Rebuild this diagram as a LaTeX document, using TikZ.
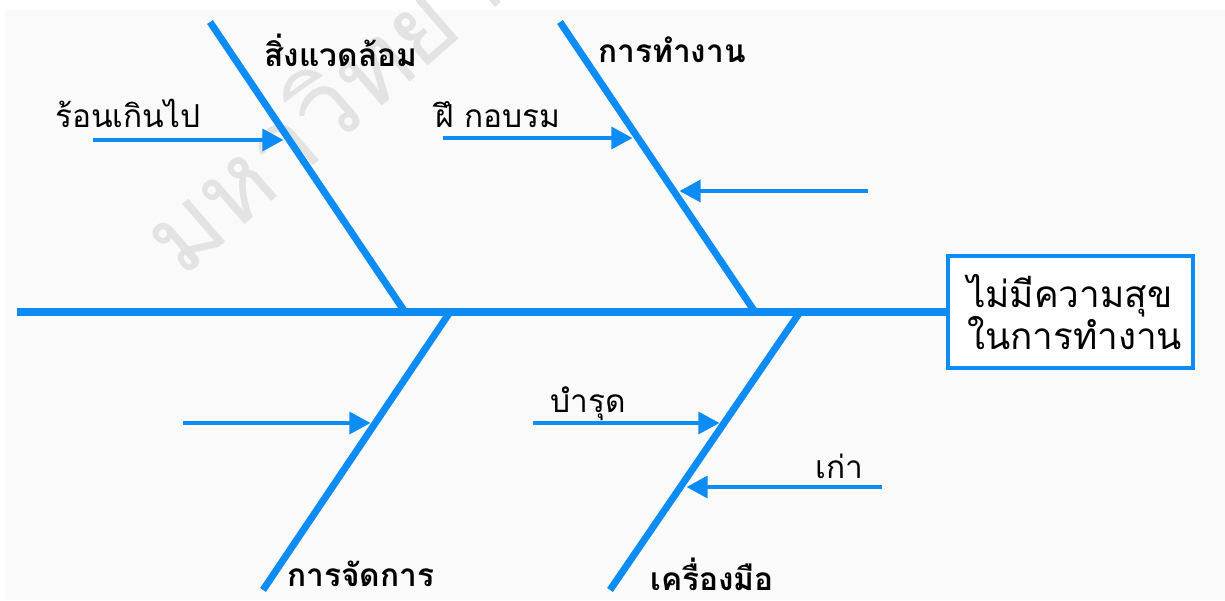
\documentclass[tikz,border=0pt]{standalone}
\usepackage{fontspec}
\newfontfamily\thai[Script=Thai]{Loma}
\usetikzlibrary{arrows.meta}
\definecolor{fishblue}{RGB}{14,140,245}
\definecolor{bgpaper}{RGB}{250,250,250}
\tikzset{
  spine/.style={draw=fishblue, line width=5.1pt},
  bone/.style={draw=fishblue, line width=4pt},
  cause/.style={draw=fishblue, line width=2pt, -{Triangle[length=12pt,width=12.5pt]}, shorten >=2pt},
  lbl/.style={font=\thai\fontsize{18}{22}\selectfont, inner sep=0pt, anchor=base west},
  bonelbl/.style={font=\thai\bfseries\fontsize{18}{21}\selectfont, inner sep=0pt, text=black},
  headbox/.style={draw=fishblue, line width=1.8pt, fill=white, minimum width=4.9cm, minimum height=2.24cm,
    text width=4.14cm, inner xsep=0.38cm, align=left, font=\thai\fontsize{21}{24.4}\selectfont},
  wmark/.style={font=\thai\fontsize{58}{62}\selectfont, text=gray!22, inner sep=0pt, anchor=base west}
}
\begin{document}
\begin{tikzpicture}[x=0.02cm, y=-0.02cm]
\useasboundingbox (0,0) rectangle (1225,600);
\fill[white] (0,0) rectangle (1225,600);
\fill[bgpaper] (5,10) rectangle (1225,600);
\begin{scope}
\clip (0,0) rectangle (1225,600);
\node[wmark, rotate=41] (wm) at (182,280) {มหาวิทยาลัย};
\end{scope}
% head box
\node[headbox] (head) at (1070.5,312) {ไม่มีความสุข\\ในการทำงาน};
% spine
\coordinate (tail) at (17,312);
\draw[spine] (tail) -- (head.west);
% bones
\coordinate (b1t) at (210,22);  \coordinate (b1b) at (405,312);
\coordinate (b2t) at (560,22);  \coordinate (b2b) at (755,312);
\coordinate (b3t) at (450,312); \coordinate (b3b) at (263,590);
\coordinate (b4t) at (800,312); \coordinate (b4b) at (610,590);
\draw[bone] (b1t) -- (b1b);
\draw[bone] (b2t) -- (b2b);
\draw[bone] (b3t) -- (b3b);
\draw[bone] (b4t) -- (b4b);
% bone labels
\node[bonelbl] (l1) at (341,50) {สิ่งแวดล้อม};
\node[bonelbl] (l2) at (672,50) {การทำงาน};
\node[bonelbl] (l3) at (361,574) {การจัดการ};
\node[bonelbl] (l4) at (712,574) {เครื่องมือ};
% cause arrows
\coordinate (a1s) at (93,140);  \coordinate (a1e) at (287,140);
\coordinate (a2s) at (443,138); \coordinate (a2e) at (636,138);
\coordinate (a3s) at (868,191); \coordinate (a3e) at (676,191);
\coordinate (a4s) at (183,423); \coordinate (a4e) at (374,423);
\coordinate (a5s) at (533,423); \coordinate (a5e) at (723,423);
\coordinate (a6s) at (882,487); \coordinate (a6e) at (683,487);
\draw[cause] (a1s) -- (a1e);
\draw[cause] (a2s) -- (a2e);
\draw[cause] (a3s) -- (a3e);
\draw[cause] (a4s) -- (a4e);
\draw[cause] (a5s) -- (a5e);
\draw[cause] (a6s) -- (a6e);
% cause labels
\node[lbl] (c1) at (55,127) {ร้อนเกินไป};
\node[lbl] (c2) at (435,127) {ฝึ กอบรม};
\node[lbl] (c5) at (550,412) {บำรุด};
\node[lbl] (c6) at (815,478) {เก่า};
\end{tikzpicture}
\end{document}
